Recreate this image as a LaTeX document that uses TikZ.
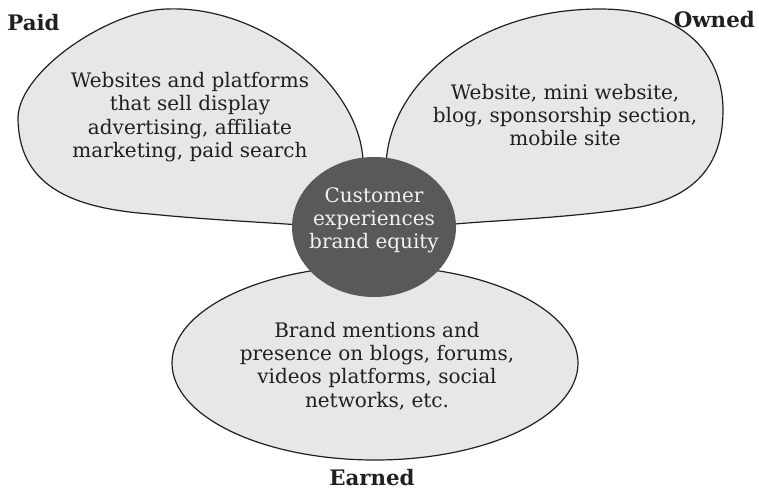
\documentclass[tikz,border=0pt]{standalone}
\usepackage{fontspec}
\setmainfont{DejaVu Serif}
\usetikzlibrary{shapes.geometric}
\definecolor{petalgray}{HTML}{E6E7E8}
\definecolor{hubgray}{HTML}{58595B}
\definecolor{inkgray}{HTML}{231F20}
\definecolor{hubink}{HTML}{F1F2F2}
\tikzset{
  petal/.style={draw=inkgray,line width=0.9pt,fill=petalgray},
  blurb/.style={align=center,text=inkgray,inner sep=0pt,
    font=\fontsize{15}{17.5}\selectfont},
  corner/.style={text=inkgray,inner sep=0pt,
    font=\fontsize{16}{19}\selectfont\bfseries},
  hub/.style={ellipse,fill=hubgray,inner sep=0pt,
    minimum width=123pt,minimum height=105pt}
}
\begin{document}
\begin{tikzpicture}[x=0.75pt,y=-0.75pt]
  \useasboundingbox (0,0) rectangle (759,490);
  % paid petal
  \draw[petal] (363,168) .. controls (366,90) and (265,5) .. (167,9)
    .. controls (110,10) and (20,70) .. (18,117)
    .. controls (18,185) and (70,208) .. (150,214)
    .. controls (210,220) and (260,222) .. (300,225)
    -- (345,205) -- cycle;
  % owned petal
  \draw[petal] (386,170) .. controls (385,90) and (470,9) .. (600,9)
    .. controls (690,9) and (723,60) .. (723,110)
    .. controls (723,160) and (700,195) .. (640,207)
    .. controls (570,218) and (500,220) .. (455,224)
    -- (420,205) -- cycle;
  % earned
  \draw[petal] (375,363) ellipse [x radius=203, y radius=97];
  \node[hub] (hub) at (374,227) {};
  \node[blurb,text=hubink] (hubtxt) at ([yshift=5pt]hub.center)
    {Customer\\experiences\\brand equity};
  \node[blurb] (paidtxt) at (190,117)
    {Websites and platforms\\that sell display\\advertising, affiliate\\marketing, paid search};
  \node[blurb] (ownedtxt) at (565,115)
    {Website, mini website,\\blog, sponsorship section,\\mobile site};
  \node[blurb] (earnedtxt) at (377,366)
    {Brand mentions and\\presence on blogs, forums,\\videos platforms, social\\networks, etc.};
  \node[corner,anchor=base west] (paid) at (7,30) {Paid};
  \node[corner,anchor=base east] (owned) at (755,27) {Owned};
  \node[corner,anchor=base] (earned) at (372,485) {Earned};
\end{tikzpicture}
\end{document}
